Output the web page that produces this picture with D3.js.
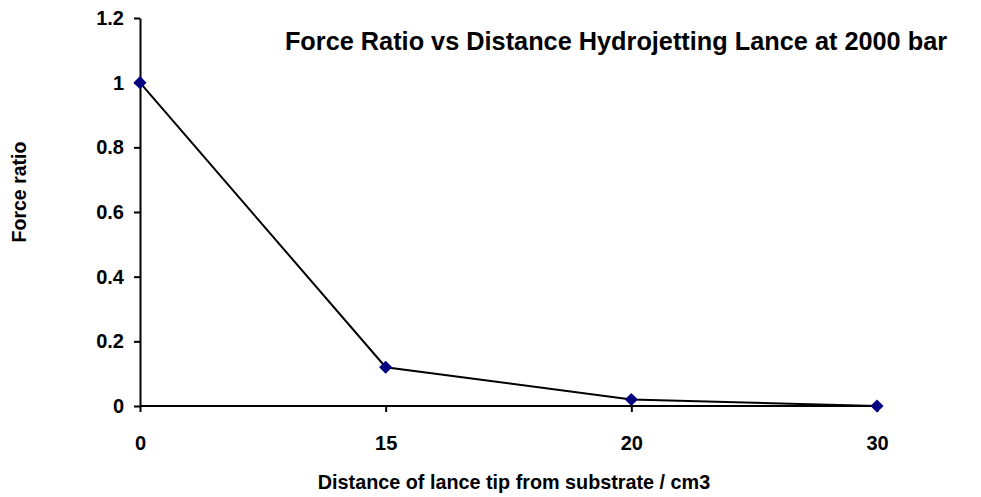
<!DOCTYPE html>
<html><head><meta charset="utf-8">
<script src="https://cdn.jsdelivr.net/npm/d3@7"></script>
<style>body{margin:0;background:#fff}svg{display:block}</style>
</head><body>
<script>
const categories = ["0", "15", "20", "30"];
const forceRatio = [1, 0.12, 0.02, 0];
const yTicks = [0, 0.2, 0.4, 0.6, 0.8, 1, 1.2];

const W = 981, H = 497;
const svg = d3.select("body").append("svg").attr("width", W).attr("height", H);
const font = "'Liberation Sans', Arial, sans-serif";

const x = d3.scalePoint().domain(categories).range([140, 877]);
const y = d3.scaleLinear().domain([0, 1.2]).range([406, 18]);

// Y axis
const yAxis = svg.append("g").attr("transform", "translate(140,0)")
  .call(d3.axisLeft(y).tickValues(yTicks).tickSize(6).tickPadding(10)
    .tickFormat(d => d3.format("~g")(d)).tickSizeOuter(0));
// X axis
const xAxis = svg.append("g").attr("transform", "translate(0,406)")
  .call(d3.axisBottom(x).tickSize(6).tickPadding(24).tickSizeOuter(0));
[yAxis, xAxis].forEach(g => {
  g.attr("font-size", null).attr("font-family", null);
  g.select(".domain").attr("stroke", "#000").attr("stroke-width", 2);
  g.selectAll(".tick line").attr("stroke", "#000").attr("stroke-width", 2);
  g.selectAll(".tick text").attr("fill", "#000").style("font-family", font)
    .style("font-size", "20px").style("font-weight", "bold");
});
xAxis.select(".domain").attr("d", "M140,0H880");

// line
const pts = categories.map((c, i) => [x(c), y(forceRatio[i])]);
svg.append("path").attr("d", d3.line()(pts)).attr("fill", "none")
  .attr("stroke", "#000").attr("stroke-width", 2);

// markers
svg.selectAll(".m").data(pts).enter().append("path")
  .attr("d", d3.symbol(d3.symbolDiamond2, 110)())
  .attr("transform", d => `translate(${d[0]},${d[1]})`)
  .attr("fill", "#000080");

// title
svg.append("text").attr("x", 616).attr("y", 50).attr("text-anchor", "middle")
  .style("font-family", font).style("font-size", "25.3px").style("font-weight", "bold")
  .text("Force Ratio vs Distance Hydrojetting Lance at 2000 bar");

// axis titles
svg.append("text").attr("transform", "translate(26,192) rotate(-90)").attr("text-anchor", "middle")
  .style("font-family", font).style("font-size", "19.5px").style("font-weight", "bold")
  .text("Force ratio");
svg.append("text").attr("x", 514).attr("y", 489).attr("text-anchor", "middle")
  .style("font-family", font).style("font-size", "19.8px").style("font-weight", "bold")
  .text("Distance of lance tip from substrate / cm3");
</script>
</body></html>
